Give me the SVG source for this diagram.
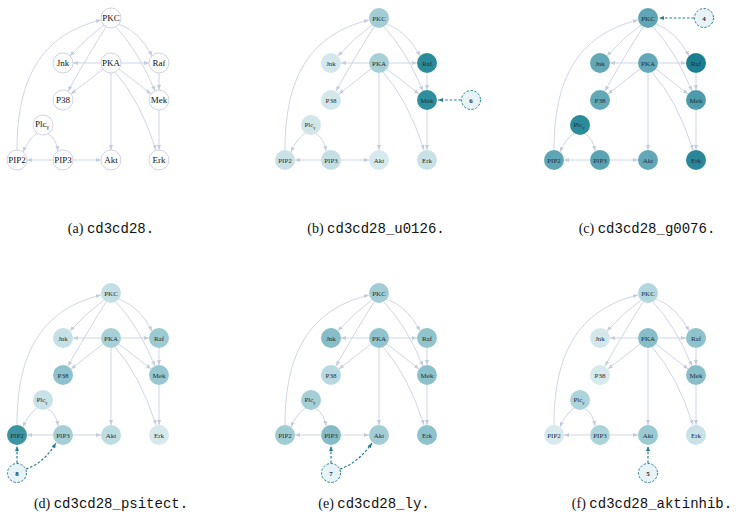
<svg xmlns="http://www.w3.org/2000/svg" width="743" height="520" viewBox="0 0 743 520">
<defs>
<marker id="ah" viewBox="0 0 6 6" refX="6" refY="3" markerWidth="5" markerHeight="5" orient="auto" markerUnits="userSpaceOnUse"><path d="M0,0.6 L6,3 L0,5.4 z" fill="#c3cbde"/></marker>
<marker id="aht" viewBox="0 0 6 6" refX="6" refY="3" markerWidth="5" markerHeight="5" orient="auto" markerUnits="userSpaceOnUse"><path d="M0,0.6 L6,3 L0,5.4 z" fill="#2a7f8f"/></marker>
<style>
.e path{fill:none;stroke:#c8d0e2;stroke-width:0.9;marker-end:url(#ah)}
.d path{fill:none;stroke:#2a7f8f;stroke-width:1.2;stroke-dasharray:2.6,1.8;marker-end:url(#aht)}
.pa circle{fill:#ffffff;stroke:#c8cfdc;stroke-width:0.9}
.pa text{font-family:"Liberation Serif","Times New Roman",serif;font-size:9px;fill:#111;text-anchor:middle}
.pn text{font-family:"Liberation Serif","Times New Roman",serif;font-size:7px;fill:#223035;text-anchor:middle}
.x circle{fill:#e7f3f6;stroke:#2a7f8f;stroke-width:1;stroke-dasharray:2.4,1.6}
.x text{font-weight:bold}
.cap{font-size:14px;text-anchor:middle;fill:#111}
.cs{font-family:"Liberation Serif","Times New Roman",serif}
.cm{font-family:"Liberation Mono","Courier New",monospace}
</style>
</defs>

<!-- Panel a -->
<g id="panel-a" class="pa">
<g id="a-connectors" class="e">
<path d="M104,25 Q86,38 70,56"/><path d="M106,27 Q90,52 68,91"/><path d="M119,24 Q140,32 152,56"/><path d="M116,27 Q138,50 155,91"/>
<path d="M101,63 L73,63"/><path d="M121,63 L149,63"/><path d="M103,69 L71,94"/><path d="M119,69 L151,94"/><path d="M111,73 L111,150"/>
<path d="M115,72 Q140,100 156,150"/><path d="M159,73 L159,90"/><path d="M159,110 L159,150"/><path d="M37,133 Q28,140 23,152"/>
<path d="M48,134 Q56,138 58,151"/><path d="M53,160 L27,160"/><path d="M73,160 L101,160"/><path d="M17,150 C17,80 40,35 101,20"/>
</g>
<g id="a-PKC"><circle cx="111" cy="18" r="10"/><text x="111" y="21">PKC</text></g>
<g id="a-Jnk"><circle cx="63" cy="63" r="10"/><text x="63" y="66">Jnk</text></g>
<g id="a-PKA"><circle cx="111" cy="63" r="10"/><text x="111" y="66">PKA</text></g>
<g id="a-Raf"><circle cx="159" cy="63" r="10"/><text x="159" y="66">Raf</text></g>
<g id="a-P38"><circle cx="63" cy="100" r="10"/><text x="63" y="103">P38</text></g>
<g id="a-Mek"><circle cx="159" cy="100" r="10"/><text x="159" y="103">Mek</text></g>
<g id="a-Plc"><circle cx="43" cy="125" r="10"/><text x="42" y="127">Plc<tspan dy="2" font-size="6">γ</tspan></text></g>
<g id="a-PIP2"><circle cx="17" cy="160" r="10"/><text x="17" y="163">PIP2</text></g>
<g id="a-PIP3"><circle cx="63" cy="160" r="10"/><text x="63" y="163">PIP3</text></g>
<g id="a-Akt"><circle cx="111" cy="160" r="10"/><text x="111" y="163">Akt</text></g>
<g id="a-Erk"><circle cx="159" cy="160" r="10"/><text x="159" y="163">Erk</text></g>
</g>

<!-- Panel b -->
<g id="panel-b" class="pn" transform="translate(268,0)">
<g id="b-connectors" class="e">
<path d="M104,25 Q86,38 70,56"/><path d="M106,27 Q90,52 68,91"/><path d="M119,24 Q140,32 152,56"/><path d="M116,27 Q138,50 155,91"/>
<path d="M101,63 L73,63"/><path d="M121,63 L149,63"/><path d="M103,69 L71,94"/><path d="M119,69 L151,94"/><path d="M111,73 L111,150"/>
<path d="M115,72 Q140,100 156,150"/><path d="M159,73 L159,90"/><path d="M159,110 L159,150"/><path d="M37,133 Q28,140 23,152"/>
<path d="M48,134 Q56,138 58,151"/><path d="M53,160 L27,160"/><path d="M73,160 L101,160"/><path d="M17,150 C17,80 40,35 101,20"/>
</g>
<g class="d"><path d="M193,100 L170,100"/></g>
<g id="b-PKC"><circle cx="111" cy="18" r="10" fill="#a3cdd5"/><text x="111" y="20.5">PKC</text></g>
<g id="b-Jnk"><circle cx="63" cy="63" r="10" fill="#d4e8ec"/><text x="63" y="65.5">Jnk</text></g>
<g id="b-PKA"><circle cx="111" cy="63" r="10" fill="#a6cfd6"/><text x="111" y="65.5">PKA</text></g>
<g id="b-Raf"><circle cx="159" cy="63" r="10" fill="#2b8b9b"/><text x="159" y="65.5">Raf</text></g>
<g id="b-P38"><circle cx="63" cy="100" r="10" fill="#d4e8ec"/><text x="63" y="102.5">P38</text></g>
<g id="b-Mek"><circle cx="159" cy="100" r="10" fill="#2f8e9d"/><text x="159" y="102.5">Mek</text></g>
<g id="b-Plc"><circle cx="43" cy="125" r="10" fill="#d2e6ea"/><text x="42" y="127">Plc<tspan dy="1.5" font-size="5">γ</tspan></text></g>
<g id="b-PIP2"><circle cx="17" cy="160" r="10" fill="#c9e1e6"/><text x="17" y="162.5">PIP2</text></g>
<g id="b-PIP3"><circle cx="63" cy="160" r="10" fill="#c6dfe4"/><text x="63" y="162.5">PIP3</text></g>
<g id="b-Akt"><circle cx="111" cy="160" r="10" fill="#d6e9ed"/><text x="111" y="162.5">Akt</text></g>
<g id="b-Erk"><circle cx="159" cy="160" r="10" fill="#c9e1e6"/><text x="159" y="162.5">Erk</text></g>
<g id="b-6" class="x"><circle cx="203" cy="100" r="9.5"/><text x="203" y="102.5">6</text></g>
</g>

<!-- Panel c -->
<g id="panel-c" class="pn" transform="translate(537,0)">
<g id="c-connectors" class="e">
<path d="M104,25 Q86,38 70,56"/><path d="M106,27 Q90,52 68,91"/><path d="M119,24 Q140,32 152,56"/><path d="M116,27 Q138,50 155,91"/>
<path d="M101,63 L73,63"/><path d="M121,63 L149,63"/><path d="M103,69 L71,94"/><path d="M119,69 L151,94"/><path d="M111,73 L111,150"/>
<path d="M115,72 Q140,100 156,150"/><path d="M159,73 L159,90"/><path d="M159,110 L159,150"/><path d="M37,133 Q28,140 23,152"/>
<path d="M48,134 Q56,138 58,151"/><path d="M53,160 L27,160"/><path d="M73,160 L101,160"/><path d="M17,150 C17,80 40,35 101,20"/>
</g>
<g class="d"><path d="M157,18 L122,18"/></g>
<g id="c-PKC"><circle cx="111" cy="18" r="10" fill="#5ea6b4"/><text x="111" y="20.5">PKC</text></g>
<g id="c-Jnk"><circle cx="63" cy="63" r="10" fill="#62a8b6"/><text x="63" y="65.5">Jnk</text></g>
<g id="c-PKA"><circle cx="111" cy="63" r="10" fill="#62a8b6"/><text x="111" y="65.5">PKA</text></g>
<g id="c-Raf"><circle cx="159" cy="63" r="10" fill="#1d7e8f"/><text x="159" y="65.5">Raf</text></g>
<g id="c-P38"><circle cx="63" cy="100" r="10" fill="#62a8b6"/><text x="63" y="102.5">P38</text></g>
<g id="c-Mek"><circle cx="159" cy="100" r="10" fill="#4d9bab"/><text x="159" y="102.5">Mek</text></g>
<g id="c-Plc"><circle cx="43" cy="125" r="10" fill="#2b8b9b"/><text x="42" y="127">Plc<tspan dy="1.5" font-size="5">γ</tspan></text></g>
<g id="c-PIP2"><circle cx="17" cy="160" r="10" fill="#5ea6b4"/><text x="17" y="162.5">PIP2</text></g>
<g id="c-PIP3"><circle cx="63" cy="160" r="10" fill="#5aa3b2"/><text x="63" y="162.5">PIP3</text></g>
<g id="c-Akt"><circle cx="111" cy="160" r="10" fill="#62a8b6"/><text x="111" y="162.5">Akt</text></g>
<g id="c-Erk"><circle cx="159" cy="160" r="10" fill="#2a8797"/><text x="159" y="162.5">Erk</text></g>
<g id="c-4" class="x"><circle cx="167" cy="18" r="9.5"/><text x="167" y="20.5">4</text></g>
</g>

<!-- Panel d -->
<g id="panel-d" class="pn" transform="translate(0,275)">
<g id="d-connectors" class="e">
<path d="M104,25 Q86,38 70,56"/><path d="M106,27 Q90,52 68,91"/><path d="M119,24 Q140,32 152,56"/><path d="M116,27 Q138,50 155,91"/>
<path d="M101,63 L73,63"/><path d="M121,63 L149,63"/><path d="M103,69 L71,94"/><path d="M119,69 L151,94"/><path d="M111,73 L111,150"/>
<path d="M115,72 Q140,100 156,150"/><path d="M159,73 L159,90"/><path d="M159,110 L159,150"/><path d="M37,133 Q28,140 23,152"/>
<path d="M48,134 Q56,138 58,151"/><path d="M53,160 L27,160"/><path d="M73,160 L101,160"/><path d="M17,150 C17,80 40,35 101,20"/>
</g>
<g class="d"><path d="M17,188 L17,171"/><path d="M26,194 Q44,188 56,168"/></g>
<g id="d-PKC"><circle cx="111" cy="18" r="10" fill="#c4e0e5"/><text x="111" y="20.5">PKC</text></g>
<g id="d-Jnk"><circle cx="63" cy="63" r="10" fill="#c6e1e6"/><text x="63" y="65.5">Jnk</text></g>
<g id="d-PKA"><circle cx="111" cy="63" r="10" fill="#a8d0d7"/><text x="111" y="65.5">PKA</text></g>
<g id="d-Raf"><circle cx="159" cy="63" r="10" fill="#9ccad2"/><text x="159" y="65.5">Raf</text></g>
<g id="d-P38"><circle cx="63" cy="100" r="10" fill="#8ec2cc"/><text x="63" y="102.5">P38</text></g>
<g id="d-Mek"><circle cx="159" cy="100" r="10" fill="#97c7d0"/><text x="159" y="102.5">Mek</text></g>
<g id="d-Plc"><circle cx="43" cy="125" r="10" fill="#c8e2e7"/><text x="42" y="127">Plc<tspan dy="1.5" font-size="5">γ</tspan></text></g>
<g id="d-PIP2"><circle cx="17" cy="160" r="10" fill="#3d95a4"/><text x="17" y="162.5">PIP2</text></g>
<g id="d-PIP3"><circle cx="63" cy="160" r="10" fill="#a5ced5"/><text x="63" y="162.5">PIP3</text></g>
<g id="d-Akt"><circle cx="111" cy="160" r="10" fill="#bedde2"/><text x="111" y="162.5">Akt</text></g>
<g id="d-Erk"><circle cx="159" cy="160" r="10" fill="#d6e9ed"/><text x="159" y="162.5">Erk</text></g>
<g id="d-8" class="x"><circle cx="17" cy="198" r="9.5"/><text x="17" y="200.5">8</text></g>
</g>

<!-- Panel e -->
<g id="panel-e" class="pn" transform="translate(268,275)">
<g id="e-connectors" class="e">
<path d="M104,25 Q86,38 70,56"/><path d="M106,27 Q90,52 68,91"/><path d="M119,24 Q140,32 152,56"/><path d="M116,27 Q138,50 155,91"/>
<path d="M101,63 L73,63"/><path d="M121,63 L149,63"/><path d="M103,69 L71,94"/><path d="M119,69 L151,94"/><path d="M111,73 L111,150"/>
<path d="M115,72 Q140,100 156,150"/><path d="M159,73 L159,90"/><path d="M159,110 L159,150"/><path d="M37,133 Q28,140 23,152"/>
<path d="M48,134 Q56,138 58,151"/><path d="M53,160 L27,160"/><path d="M73,160 L101,160"/><path d="M17,150 C17,80 40,35 101,20"/>
</g>
<g class="d"><path d="M63,188 L63,171"/><path d="M72,194 Q90,188 104,168"/></g>
<g id="e-PKC"><circle cx="111" cy="18" r="10" fill="#a2cdd5"/><text x="111" y="20.5">PKC</text></g>
<g id="e-Jnk"><circle cx="63" cy="63" r="10" fill="#86bdc8"/><text x="63" y="65.5">Jnk</text></g>
<g id="e-PKA"><circle cx="111" cy="63" r="10" fill="#90c3cd"/><text x="111" y="65.5">PKA</text></g>
<g id="e-Raf"><circle cx="159" cy="63" r="10" fill="#92c4cd"/><text x="159" y="65.5">Raf</text></g>
<g id="e-P38"><circle cx="63" cy="100" r="10" fill="#b8d9df"/><text x="63" y="102.5">P38</text></g>
<g id="e-Mek"><circle cx="159" cy="100" r="10" fill="#8cc0ca"/><text x="159" y="102.5">Mek</text></g>
<g id="e-Plc"><circle cx="43" cy="125" r="10" fill="#a5ced5"/><text x="42" y="127">Plc<tspan dy="1.5" font-size="5">γ</tspan></text></g>
<g id="e-PIP2"><circle cx="17" cy="160" r="10" fill="#a0ccd4"/><text x="17" y="162.5">PIP2</text></g>
<g id="e-PIP3"><circle cx="63" cy="160" r="10" fill="#85bcc7"/><text x="63" y="162.5">PIP3</text></g>
<g id="e-Akt"><circle cx="111" cy="160" r="10" fill="#a2cdd5"/><text x="111" y="162.5">Akt</text></g>
<g id="e-Erk"><circle cx="159" cy="160" r="10" fill="#8dc1cb"/><text x="159" y="162.5">Erk</text></g>
<g id="e-7" class="x"><circle cx="63" cy="198" r="9.5"/><text x="63" y="200.5">7</text></g>
</g>

<!-- Panel f -->
<g id="panel-f" class="pn" transform="translate(537,275)">
<g id="f-connectors" class="e">
<path d="M104,25 Q86,38 70,56"/><path d="M106,27 Q90,52 68,91"/><path d="M119,24 Q140,32 152,56"/><path d="M116,27 Q138,50 155,91"/>
<path d="M101,63 L73,63"/><path d="M121,63 L149,63"/><path d="M103,69 L71,94"/><path d="M119,69 L151,94"/><path d="M111,73 L111,150"/>
<path d="M115,72 Q140,100 156,150"/><path d="M159,73 L159,90"/><path d="M159,110 L159,150"/><path d="M37,133 Q28,140 23,152"/>
<path d="M48,134 Q56,138 58,151"/><path d="M53,160 L27,160"/><path d="M73,160 L101,160"/><path d="M17,150 C17,80 40,35 101,20"/>
</g>
<g class="d"><path d="M111,188 L111,171"/></g>
<g id="f-PKC"><circle cx="111" cy="18" r="10" fill="#b3d7de"/><text x="111" y="20.5">PKC</text></g>
<g id="f-Jnk"><circle cx="63" cy="63" r="10" fill="#d4e8ec"/><text x="63" y="65.5">Jnk</text></g>
<g id="f-PKA"><circle cx="111" cy="63" r="10" fill="#88bec9"/><text x="111" y="65.5">PKA</text></g>
<g id="f-Raf"><circle cx="159" cy="63" r="10" fill="#8ec2cc"/><text x="159" y="65.5">Raf</text></g>
<g id="f-P38"><circle cx="63" cy="100" r="10" fill="#d6e9ed"/><text x="63" y="102.5">P38</text></g>
<g id="f-Mek"><circle cx="159" cy="100" r="10" fill="#88bec9"/><text x="159" y="102.5">Mek</text></g>
<g id="f-Plc"><circle cx="43" cy="125" r="10" fill="#aed4db"/><text x="42" y="127">Plc<tspan dy="1.5" font-size="5">γ</tspan></text></g>
<g id="f-PIP2"><circle cx="17" cy="160" r="10" fill="#d8eaee"/><text x="17" y="162.5">PIP2</text></g>
<g id="f-PIP3"><circle cx="63" cy="160" r="10" fill="#aed4db"/><text x="63" y="162.5">PIP3</text></g>
<g id="f-Akt"><circle cx="111" cy="160" r="10" fill="#9ccad2"/><text x="111" y="162.5">Akt</text></g>
<g id="f-Erk"><circle cx="159" cy="160" r="10" fill="#c8e2e7"/><text x="159" y="162.5">Erk</text></g>
<g id="f-5" class="x"><circle cx="111" cy="198" r="9.5"/><text x="111" y="200.5">5</text></g>
</g>

<!-- Captions -->
<g id="captions">
<text class="cap" x="111" y="233"><tspan class="cs">(a) </tspan><tspan class="cm">cd3cd28.</tspan></text>
<text class="cap" x="376" y="233"><tspan class="cs">(b) </tspan><tspan class="cm">cd3cd28_u0126.</tspan></text>
<text class="cap" x="647" y="233"><tspan class="cs">(c) </tspan><tspan class="cm">cd3cd28_g0076.</tspan></text>
<text class="cap" x="111" y="508"><tspan class="cs">(d) </tspan><tspan class="cm">cd3cd28_psitect.</tspan></text>
<text class="cap" x="374" y="508"><tspan class="cs">(e) </tspan><tspan class="cm">cd3cd28_ly.</tspan></text>
<text class="cap" x="652" y="508"><tspan class="cs">(f) </tspan><tspan class="cm">cd3cd28_aktinhib.</tspan></text>
</g>
</svg>
